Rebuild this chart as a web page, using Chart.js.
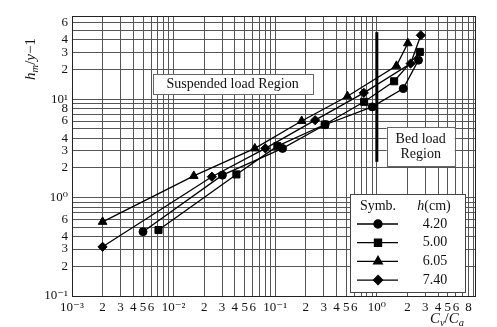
<!DOCTYPE html>
<html>
<head>
<meta charset="utf-8">
<script src="https://cdn.jsdelivr.net/npm/chart.js@4.4.1/dist/chart.umd.min.js"></script>
<style>
  html, body { margin: 0; padding: 0; background: #fff; }
  #wrap { width: 497px; height: 327px; }
</style>
</head>
<body>
<div id="wrap"><canvas id="chart" width="497" height="327"></canvas></div>
<script>
// ---------------- Data ----------------
const H_LABELS = ["4.20", "5.00", "6.05", "7.40"];   // h (cm)
const POINT_STYLES = ["circle", "rect", "triangle", "rectRot"];

const CV_420 = [0.0050, 0.0302, 0.118, 0.31, 0.90, 1.82, 2.57];
const HY_420 = [0.45, 1.69, 3.16, 5.5, 8.35, 12.8, 24.9];
const CV_500 = [0.0071, 0.0415, 0.105, 0.308, 0.75, 1.48, 2.65];
const HY_500 = [0.468, 1.72, 3.33, 5.53, 9.4, 15.2, 30.2];
const CV_605 = [0.0020, 0.0158, 0.063, 0.182, 0.514, 1.56, 2.02];
const HY_605 = [0.567, 1.66, 3.16, 6.0, 10.7, 21.8, 37];
const CV_740 = [0.0020, 0.0238, 0.080, 0.247, 0.745, 2.15, 2.71];
const HY_740 = [0.316, 1.63, 3.16, 6.12, 11.6, 23, 44.6];

// boundary between suspended load and bed load (Cv/Ca = 1)
const BOUNDARY_X = [1, 1];
const BOUNDARY_Y = [2.31, 48];

const X_TICK_LABELS = [0.001, 0.002, 0.003, 0.004, 0.005, 0.006,
                       0.01, 0.02, 0.03, 0.04, 0.05, 0.06,
                       0.1, 0.2, 0.3, 0.4, 0.5, 0.6,
                       1, 2, 3, 4, 5, 6, 8];
const Y_TICK_LABELS = [0.1, 0.2, 0.3, 0.4, 0.6, 1, 2, 3, 4, 6, 8, 10, 20, 30, 40, 60];

const X_RANGE = [0.001, 9.25];
const Y_RANGE = [0.1, 70];

// ---------------- Helpers ----------------
const SERIF = "'Liberation Serif', 'DejaVu Serif', serif";
const SUP = { "-": "⁻", "0": "⁰", "1": "¹", "2": "²", "3": "³" };
const zip = (xs, ys) => xs.map((x, i) => ({ x, y: ys[i] }));

function gridValues(min, max) {
  const out = [];
  for (let e = -4; e <= 3; e++) {
    for (let m = 1; m <= 9; m++) {
      const v = +(m * Math.pow(10, e)).toPrecision(6);
      if (v >= min * 0.999 && v <= max * 1.001) out.push(v);
    }
  }
  return out;
}

function logLabel(v, list) {
  if (!list.some(t => Math.abs(t - v) / t < 1e-6)) return "";
  const e = Math.floor(Math.log10(v) + 1e-9);
  const m = Math.round(v / Math.pow(10, e));
  if (m === 1) return "10" + String(e).split("").map(c => SUP[c]).join("");
  return String(m);
}

// draw a run of [text, italic, sub] pieces starting at x
function drawPieces(ctx, pieces, x, y, size) {
  pieces.forEach(([txt, italic, sub]) => {
    const s = sub ? size * 0.7 : size;
    ctx.font = `${italic ? "italic " : ""}${s}px ${SERIF}`;
    ctx.fillText(txt, x, sub ? y + size * 0.28 : y);
    x += ctx.measureText(txt).width;
  });
}
function piecesWidth(ctx, pieces, size) {
  let w = 0;
  pieces.forEach(([txt, italic, sub]) => {
    const s = sub ? size * 0.7 : size;
    ctx.font = `${italic ? "italic " : ""}${s}px ${SERIF}`;
    w += ctx.measureText(txt).width;
  });
  return w;
}

function textBox(ctx, cx, cy, w, h, lines) {
  ctx.save();
  ctx.fillStyle = "#fff";
  ctx.fillRect(cx - w / 2, cy - h / 2, w, h);
  ctx.strokeStyle = "#666";
  ctx.lineWidth = 1;
  ctx.strokeRect(Math.round(cx - w / 2) + 0.5, Math.round(cy - h / 2) + 0.5, w, h);
  ctx.fillStyle = "#111";
  ctx.font = `14px ${SERIF}`;
  ctx.textAlign = "center";
  ctx.textBaseline = "middle";
  const lh = 15;
  lines.forEach((t, i) => ctx.fillText(t, cx, cy + (i - (lines.length - 1) / 2) * lh));
  ctx.restore();
}

// ---------------- Plugins ----------------
const decorations = {
  id: "decorations",
  afterDatasetsDraw(chart) {
    const { ctx, chartArea: a, scales: { x, y } } = chart;

    // frame
    ctx.save();
    ctx.strokeStyle = "#222";
    ctx.lineWidth = 1;
    ctx.strokeRect(Math.round(a.left) + 0.5, Math.round(a.top) + 0.5,
                   Math.round(a.right - a.left), Math.round(a.bottom - a.top));
    ctx.restore();

    // region labels
    textBox(ctx, x.getPixelForValue(0.038), y.getPixelForValue(14.2), 160, 20, ["Suspended load Region"]);
    textBox(ctx, x.getPixelForValue(2.7), y.getPixelForValue(3.28), 68, 39, ["Bed load", "Region"]);

    // legend
    const r = a.right - 10, b = a.bottom - 4, l = r - 115, t = b - 98;
    ctx.save();
    ctx.fillStyle = "#fff";
    ctx.fillRect(l, t, r - l, b - t);
    ctx.strokeStyle = "#444";
    ctx.strokeRect(l + 0.5, t + 0.5, r - l, b - t);
    ctx.fillStyle = "#111";
    ctx.textBaseline = "middle";
    ctx.textAlign = "center";
    ctx.font = `14px ${SERIF}`;
    ctx.fillText("Symb.", l + 28, t + 12);
    const hp = [["h", true, false], ["(cm)", false, false]];
    ctx.textAlign = "left";
    drawPieces(ctx, hp, l + 84 - piecesWidth(ctx, hp, 14) / 2, t + 12, 14);
    H_LABELS.forEach((lab, i) => {
      const ds = chart.data.datasets[i];
      const yy = t + 30 + i * 18.7;
      ctx.strokeStyle = "#000";
      ctx.lineWidth = 1.3;
      ctx.beginPath();
      ctx.moveTo(l + 7, yy);
      ctx.lineTo(l + 48, yy);
      ctx.stroke();
      ctx.fillStyle = "#000";
      Chart.helpers.drawPoint(ctx, { pointStyle: ds.pointStyle, radius: ds.pointRadius, rotation: 0, borderWidth: 1 }, l + 28, yy);
      ctx.fillStyle = "#111";
      ctx.font = `14px ${SERIF}`;
      ctx.textAlign = "center";
      ctx.fillText(lab, l + 85, yy);
    });
    ctx.restore();

    // axis titles
    ctx.save();
    ctx.fillStyle = "#111";
    ctx.textBaseline = "middle";
    ctx.textAlign = "left";
    const xt = [["C", true, false], ["v", true, true], ["/", false, false], ["C", true, false], ["a", true, true]];
    drawPieces(ctx, xt, 447 - piecesWidth(ctx, xt, 15) / 2, 319, 15);
    const yt = [["h", true, false], ["m", true, true], ["/", false, false], ["y", true, false], ["−1", false, false]];
    ctx.translate(31, 59);
    ctx.rotate(-Math.PI / 2);
    drawPieces(ctx, yt, -piecesWidth(ctx, yt, 15) / 2, 0, 15);
    ctx.restore();
  }
};

// ---------------- Chart ----------------
const SERIES = [
  [CV_420, HY_420, 4],
  [CV_500, HY_500, 5],
  [CV_605, HY_605, 5],
  [CV_740, HY_740, 4.6],
];

const datasets = SERIES.map(([xs, ys, rad], i) => ({
  label: H_LABELS[i],
  data: zip(xs, ys),
  borderColor: "#000",
  backgroundColor: "#000",
  borderWidth: 1.3,
  pointStyle: POINT_STYLES[i],
  pointRadius: rad,
  pointBorderWidth: 1,
  tension: 0,
}));
datasets.push({
  label: "boundary",
  data: zip(BOUNDARY_X, BOUNDARY_Y),
  borderColor: "#000",
  borderWidth: 3,
  pointRadius: 0,
});

const gridColor = "#555";

new Chart(document.getElementById("chart"), {
  type: "line",
  data: { datasets },
  options: {
    responsive: false,
    animation: false,
    layout: { padding: { left: 0, top: 16, right: 22, bottom: 0 } },
    plugins: { legend: { display: false }, tooltip: { enabled: false } },
    scales: {
      x: {
        type: "logarithmic",
        min: X_RANGE[0], max: X_RANGE[1],
        afterBuildTicks: s => { s.ticks = gridValues(s.min, s.max).map(v => ({ value: v })); },
        afterFit: s => { s.height = 31; },
        ticks: {
          autoSkip: false, maxRotation: 0, minRotation: 0, padding: 4,
          color: "#111", font: { family: SERIF, size: 13 },
          callback: v => logLabel(v, X_TICK_LABELS),
        },
        grid: { color: gridColor, lineWidth: 1, drawTicks: false },
        border: { color: "#222" },
      },
      y: {
        type: "logarithmic",
        min: Y_RANGE[0], max: Y_RANGE[1],
        afterBuildTicks: s => { s.ticks = gridValues(s.min, s.max).map(v => ({ value: v })); },
        afterFit: s => { s.width = 72; },
        ticks: {
          autoSkip: false, padding: 4,
          color: "#111", font: { family: SERIF, size: 13 },
          callback: v => logLabel(v, Y_TICK_LABELS),
        },
        grid: { color: gridColor, lineWidth: 1, drawTicks: false },
        border: { color: "#222" },
      },
    },
  },
  plugins: [decorations],
});
</script>
</body>
</html>
